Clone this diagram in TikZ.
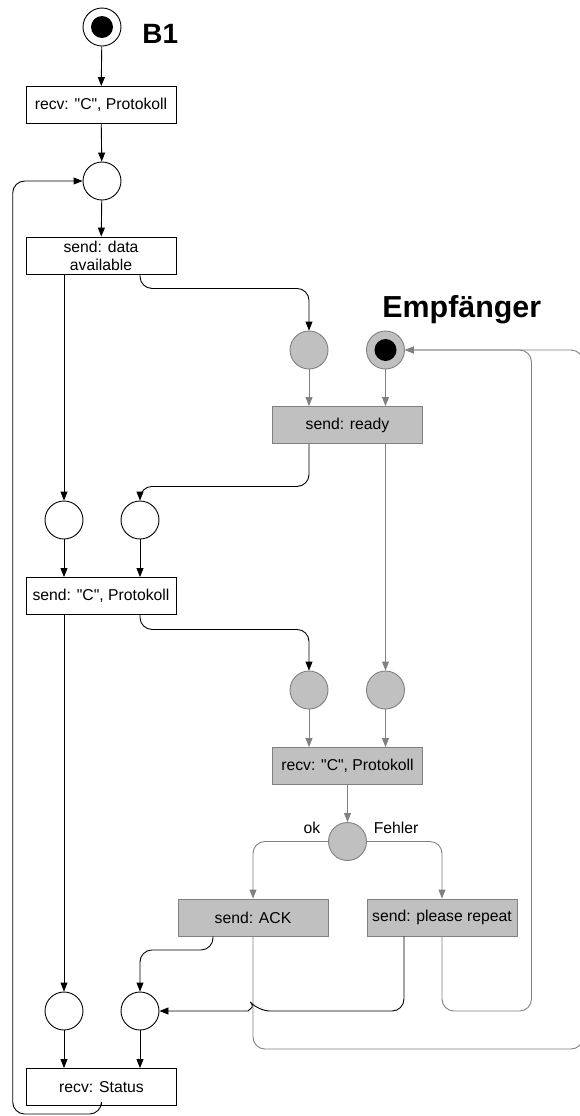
\documentclass[tikz,border=0pt]{standalone}
\usepackage{fontspec}
\setmainfont{Liberation Sans}
\usetikzlibrary{arrows.meta}

\definecolor{netgray}{RGB}{192,192,192}
\definecolor{netdark}{RGB}{128,128,128}
\newcommand{\dq}{\textquotedbl}

\begin{document}
\begin{tikzpicture}[x=1bp, y=-1bp, line width=0.9bp,
    every node/.style={font=\fontsize{15.8}{18}\selectfont},
    place/.style={circle, draw, minimum size=38bp, inner sep=0pt},
    gplace/.style={place, fill=netgray, draw=netdark},
    trans/.style={draw, minimum width=150bp, minimum height=37bp, inner sep=0pt, align=center},
    gtrans/.style={trans, fill=netgray, draw=netdark},
    token/.style={circle, fill=black, minimum size=22bp, inner sep=0pt},
    title/.style={anchor=base west, inner sep=0pt, font=\bfseries\fontsize{29}{32}\selectfont},
    arr/.style={-{Triangle[length=9bp, width=7bp]}, rounded corners=12bp},
    garr/.style={arr, draw=netdark}]
    \useasboundingbox (0,0) rectangle (580,1116);

    % Sender B1
    \node[place] (s0) at (102,27) {};
    \node[token] (s0tok) at (s0) {};
    \node[title, font=\bfseries\fontsize{28}{30}\selectfont] (b1) at (142,43) {B1};
    \node[trans] (t1) at (101,105) {recv: \dq C\dq, Protokoll};
    \node[place] (p1) at (102,181) {};
    \node[trans] (t2) at (101,255.5) {send: data\\available};
    \node[place] (p2) at (64,520) {};
    \node[place] (p3) at (140,520) {};
    \node[trans] (t3) at (101,596) {send: \dq C\dq, Protokoll};
    \node[place] (p4) at (64,1011) {};
    \node[place] (p5) at (140,1011) {};
    \node[trans] (t4) at (101.5,1087) {recv: Status};

    % Empfaenger
    \node[title, font=\bfseries\fontsize{30.5}{32}\selectfont] (emp) at (382,317) {Empfänger};
    \node[gplace] (e1) at (309,350) {};
    \node[gplace] (e0) at (385.5,350) {};
    \node[token] (e0tok) at (e0) {};
    \node[gtrans] (u1) at (347.5,425) {send: ready};
    \node[gplace] (e2) at (309,690) {};
    \node[gplace] (e3) at (385.5,690) {};
    \node[gtrans] (u2) at (347.5,766) {recv: \dq C\dq, Protokoll};
    \node[gplace] (e4) at (347.5,841.5) {};
    \node[anchor=east] (ok) at (324,828) {ok};
    \node[anchor=west] (fehler) at (370,828) {Fehler};
    \node[gtrans] (u3) at (253,917.5) {send: ACK};
    \node[gtrans] (u4) at (442,917.5) {send: please repeat};

    % sender arcs
    \draw[arr] (s0) -- (t1);
    \draw[arr] (t1) -- (p1);
    \draw[arr] (p1) -- (t2);
    \draw[arr] (t2.south -| p2) -- (p2);
    \draw[arr] (t2.south -| p3) -- ++(0,14) -| (e1);
    \draw[arr] (p2) -- (p2 |- t3.north);
    \draw[arr] (p3) -- (p3 |- t3.north);
    \draw[arr] (t3.south -| p2) -- (p4);
    \draw[arr] (t3.south -| p3) -- ++(0,14.5) -| (e2);
    \draw[arr] (p4) -- (p4 |- t4.north);
    \draw[arr] (p5) -- (p5 |- t4.north);
    \draw[arr] (t4.south) |- (12.7,1114) |- (p1);

    % receiver arcs
    \draw[garr] (e1) -- (e1 |- u1.north);
    \draw[garr] (e0) -- (e0 |- u1.north);
    \draw[arr] (u1.south -| e1) -- ++(0,42.5) -| (p3);
    \draw[garr] (u1.south -| e0) -- (e3);
    \draw[garr] (e2) -- (e2 |- u2.north);
    \draw[garr] (e3) -- (e3 |- u2.north);
    \draw[garr] (u2) -- (e4);
    \draw[garr] (e4) -| (u3);
    \draw[garr] (e4) -| (u4);

    % ok / Fehler
    \draw[garr] (u3.south) |- (583,1049) |- (e0);
    \draw[garr] (u4.south) |- (531.5,1011) |- (e0);
    \draw[arr] ([xshift=-40bp]u3.south) -- ++(0,13.5) -| (p5);
    \draw[arr] ([xshift=-38bp]u4.south) |- (258,1011) [sharp corners]
        .. controls (255,1007.5) and (251,1007.5) .. (248,1011) -- (p5);
\end{tikzpicture}
\end{document}
